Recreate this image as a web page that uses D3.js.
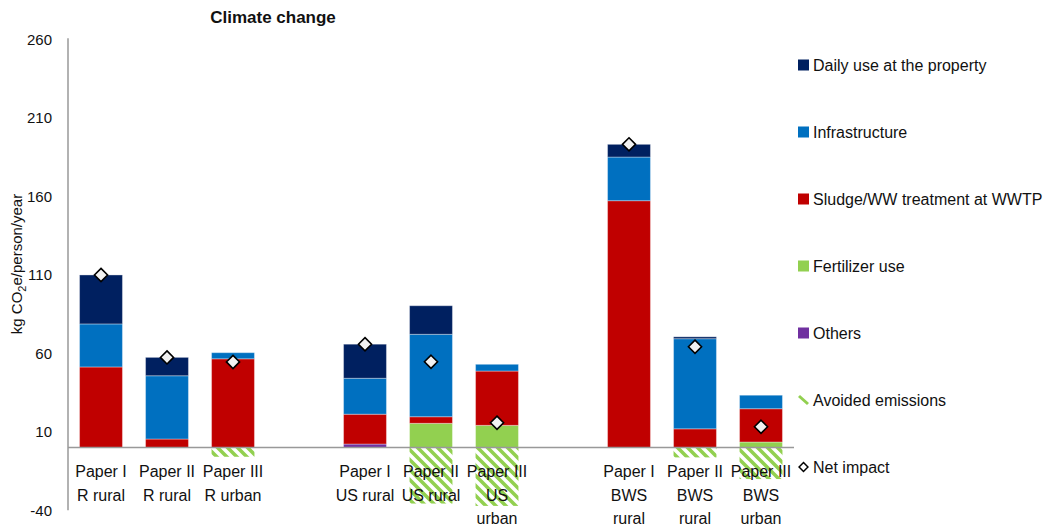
<!DOCTYPE html>
<html>
<head>
<meta charset="utf-8">
<script src="https://cdn.jsdelivr.net/npm/d3@7"></script>
<style>
  body { margin: 0; background: #fff; }
  text { font-family: "Liberation Sans", Arial, sans-serif; fill: #111; }
</style>
</head>
<body>
<div id="chart"></div>
<script>
// values (kg CO2e/person/year)
const categories = [
  ["Paper I", "R rural"],
  ["Paper II", "R rural"],
  ["Paper III", "R urban"],
  ["Paper I", "US rural"],
  ["Paper II", "US rural"],
  ["Paper III", "US", "urban"],
  ["Paper I", "BWS", "rural"],
  ["Paper II", "BWS", "rural"],
  ["Paper III", "BWS", "urban"]
];
const others = [0, 0, 0, 2.2, 0, 0, 0, 0, 0];
const fertilizer = [0, 0, 0, 0, 15.4, 14.1, 0, 0, 3.5];
const sludge = [51.3, 5.4, 56.5, 19.0, 4.2, 34.6, 157.2, 11.9, 21.2];
const infrastructure = [27.4, 40.3, 3.9, 22.9, 52.5, 4.3, 27.8, 57.4, 8.6];
const daily = [31.2, 11.7, 0, 21.7, 18.2, 0, 8.1, 1.2, 0];
const avoided = [0, 0, -5.9, 0, -35.7, -37.2, 0, -6.3, -20.1];
const netImpact = [109.9, 57.4, 54.5, 65.8, 54.6, 15.8, 193.1, 64.2, 13.2];
const yTicks = [260, 210, 160, 110, 60, 10, -40];

const series = [
  { key: "Others", values: others, color: "#7030a0" },
  { key: "Fertilizer use", values: fertilizer, color: "#92d050" },
  { key: "Sludge/WW treatment at WWTP", values: sludge, color: "#c00000" },
  { key: "Infrastructure", values: infrastructure, color: "#0070c0" },
  { key: "Daily use at the property", values: daily, color: "#002060" }
];
const legendOrder = [4, 3, 2, 1, 0];

const width = 1063,
  height = 528;

// slots: three groups of three bars with an empty slot between groups
const ids = categories.map(c => c.join(" "));
const slots = [...ids.slice(0, 3), "gap1", ...ids.slice(3, 6), "gap2", ...ids.slice(6)];

const x = d3.scaleBand().domain(slots).range([68, 794]).paddingInner(0.35).paddingOuter(0.175);
const y = d3.scaleLinear().domain([-40, 260]).range([510.3, 39.3]);

const svg = d3.select("#chart").append("svg").attr("width", width).attr("height", height);

const defs = svg.append("defs");
const pat = defs
  .append("pattern")
  .attr("id", "hatch")
  .attr("patternUnits", "userSpaceOnUse")
  .attr("width", 10)
  .attr("height", 10);
pat
  .append("path")
  .attr("d", "M-2,-2L12,12M8,-2L12,2M-2,8L2,12")
  .attr("stroke", "#92d050")
  .attr("stroke-width", 3.6);

// stacked rows
const rows = ids.map((id, i) => {
  let base = 0;
  return series.map(s => {
    const seg = { id: id, key: s.key, color: s.color, y0: base, y1: base + s.values[i] };
    base += s.values[i];
    return seg;
  });
});

const bars = svg.append("g");
bars
  .selectAll("g")
  .data(rows)
  .join("g")
  .selectAll("rect")
  .data(d => d.filter(s => s.y1 > s.y0))
  .join("rect")
  .attr("x", d => x(d.id))
  .attr("width", x.bandwidth())
  .attr("y", d => y(d.y1))
  .attr("height", d => y(d.y0) - y(d.y1))
  .attr("fill", d => d.color)
  .attr("stroke", "rgba(255,255,255,0.35)")
  .attr("stroke-width", 1);

// avoided emissions (negative, hatched)
svg
  .append("g")
  .selectAll("rect")
  .data(ids.map((id, i) => ({ id: id, v: avoided[i] })).filter(d => d.v < 0))
  .join("rect")
  .attr("x", d => x(d.id))
  .attr("width", x.bandwidth())
  .attr("y", y(0))
  .attr("height", d => y(d.v) - y(0))
  .attr("fill", "url(#hatch)");

// axes
svg
  .append("line")
  .attr("x1", 68)
  .attr("x2", 68)
  .attr("y1", y(260) - 1)
  .attr("y2", y(-40))
  .attr("stroke", "#999")
  .attr("stroke-width", 1.5);
svg
  .append("line")
  .attr("x1", 68)
  .attr("x2", 794)
  .attr("y1", y(0))
  .attr("y2", y(0))
  .attr("stroke", "#999")
  .attr("stroke-width", 1.5);

svg
  .append("g")
  .selectAll("text")
  .data(yTicks)
  .join("text")
  .attr("x", 52)
  .attr("y", d => y(d))
  .attr("dy", "0.35em")
  .attr("text-anchor", "end")
  .style("font-size", "15px")
  .text(d => d);

// category labels
const catG = svg
  .append("g")
  .selectAll("text")
  .data(categories.map((c, i) => ({ id: ids[i], lines: c })))
  .join("text")
  .attr("x", d => x(d.id) + x.bandwidth() / 2)
  .attr("y", 477)
  .attr("text-anchor", "middle")
  .style("font-size", "16px");
catG
  .selectAll("tspan")
  .data(d => d.lines.map((l, j) => ({ l: l, j: j, cx: x(d.id) + x.bandwidth() / 2 })))
  .join("tspan")
  .attr("x", d => d.cx)
  .attr("dy", d => (d.j === 0 ? 0 : 23.5))
  .text(d => d.l);

// net impact diamonds
const diamond = d3.symbol().type(d3.symbolDiamond2).size(110);
svg
  .append("g")
  .selectAll("path")
  .data(ids.map((id, i) => ({ id: id, v: netImpact[i] })))
  .join("path")
  .attr("d", diamond)
  .attr("transform", d => `translate(${x(d.id) + x.bandwidth() / 2},${y(d.v)})`)
  .attr("fill", "#f2f2f2")
  .attr("stroke", "#000")
  .attr("stroke-width", 1.6);

// title and y label
svg
  .append("text")
  .attr("x", 273)
  .attr("y", 23)
  .attr("text-anchor", "middle")
  .style("font-size", "17px")
  .style("font-weight", "bold")
  .text("Climate change");

const yl = svg
  .append("text")
  .attr("transform", "translate(22,264) rotate(-90)")
  .attr("text-anchor", "middle")
  .style("font-size", "15px");
yl.append("tspan").text("kg CO");
yl.append("tspan").attr("dy", 4).style("font-size", "11px").text("2");
yl.append("tspan").attr("dy", -4).text("e/person/year");

// legend
const legendY = d3.scaleLinear().domain([0, 6]).range([65, 467]);
const lg = svg.append("g");
legendOrder.forEach((si, i) => {
  lg.append("rect")
    .attr("x", 798)
    .attr("y", legendY(i) - 5.5)
    .attr("width", 11)
    .attr("height", 11)
    .attr("fill", series[si].color);
  lg.append("text")
    .attr("x", 813)
    .attr("y", legendY(i))
    .attr("dy", "0.35em")
    .style("font-size", "16px")
    .text(series[si].key);
});
lg.append("line")
  .attr("x1", 799)
  .attr("y1", legendY(5) - 4)
  .attr("x2", 808)
  .attr("y2", legendY(5) + 4)
  .attr("stroke", "#92d050")
  .attr("stroke-width", 3);
lg.append("text")
  .attr("x", 813)
  .attr("y", legendY(5))
  .attr("dy", "0.35em")
  .style("font-size", "16px")
  .text("Avoided emissions");
lg.append("path")
  .attr("d", d3.symbol().type(d3.symbolDiamond2).size(50))
  .attr("transform", `translate(803.5,${legendY(6)})`)
  .attr("fill", "#fff")
  .attr("stroke", "#000")
  .attr("stroke-width", 1.5);
lg.append("text")
  .attr("x", 813)
  .attr("y", legendY(6))
  .attr("dy", "0.35em")
  .style("font-size", "16px")
  .text("Net impact");
</script>
</body>
</html>
